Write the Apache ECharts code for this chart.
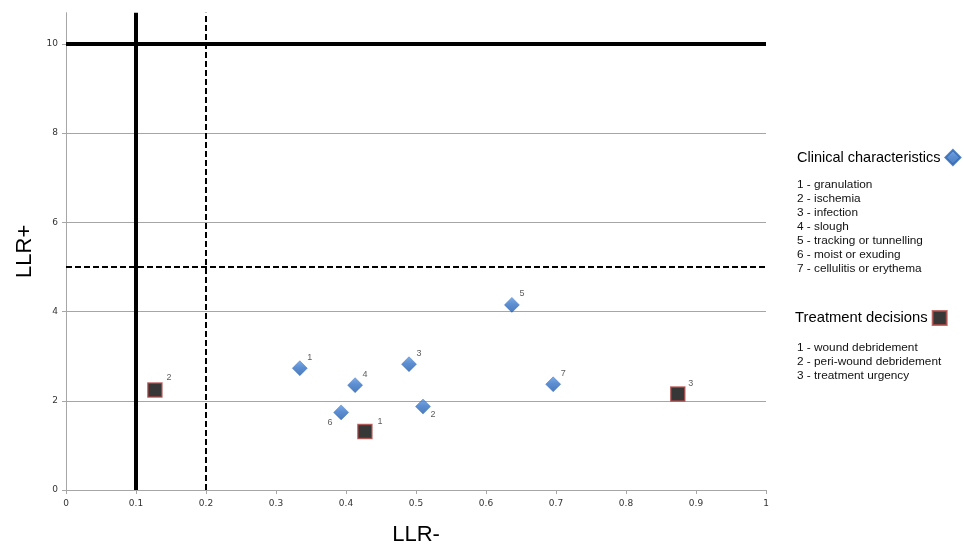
<!DOCTYPE html>
<html><head><meta charset="utf-8">
<script src="https://cdn.jsdelivr.net/npm/echarts@6/dist/echarts.min.js"></script>
<style>html,body{margin:0;padding:0;background:#fff;overflow:hidden}#c{width:964px;height:545px}</style>
</head><body><div id="c"></div>
<script>
// ---- data ----
const clinicalIds = ['1','2','3','4','5','6','7'];
const clinicalLLRneg = [0.334, 0.510, 0.490, 0.413, 0.637, 0.393, 0.696];
const clinicalLLRpos = [2.73, 1.87, 2.82, 2.35, 4.15, 1.74, 2.37];
const clinicalNames = ['1 - granulation','2 - ischemia','3 - infection','4 - slough','5 - tracking or tunnelling','6 - moist or exuding','7 - cellulitis or erythema'];

const treatmentIds = ['1','2','3'];
const treatmentLLRneg = [0.427, 0.127, 0.874];
const treatmentLLRpos = [1.31, 2.24, 2.15];
const treatmentNames = ['1 - wound debridement','2 - peri-wound debridement','3 - treatment urgency'];

const strongLLRneg = 0.1, moderateLLRneg = 0.2;
const strongLLRpos = 10, moderateLLRpos = 5;
const xMin = 0, xMax = 1, xStep = 0.1;
const yMin = 0, yMax = 10.7, yStep = 2;

// ---- presentation ----
const labelOffsets = {
  clinical: {'1':[10,-11],'2':[10,8],'3':[10,-11],'4':[10,-11],'5':[10,-11],'6':[-11,10],'7':[10,-11]},
  treatment: {'1':[15,-10],'2':[14,-13],'3':[13,-11]}
};
function pts(ids, xs, ys, key){
  return ids.map((id,i)=>({
    value:[xs[i], ys[i], id],
    label:{offset: labelOffsets[key][id]}
  }));
}
const lbl = {show:true, position:'inside', formatter:p=>p.value[2], fontSize:9, color:'#333', fontFamily:'Liberation Sans'};
const refLine = (data, w, type)=>({type:'line', data, symbol:'none', silent:true, z:1,
  lineStyle:{color:'#000', width:w, type}, animation:false});

const chart = echarts.init(document.getElementById('c'), null, {renderer:'canvas'});
chart.setOption({
  animation:false,
  grid:{left:66, right:198, top:12.7, bottom:55, containLabel:false, outerBoundsMode:'none'},
  xAxis:{type:'value', min:xMin, max:xMax, interval:xStep,
    name:'LLR-', nameLocation:'middle', nameGap:34,
    nameTextStyle:{fontSize:22, color:'#000', fontFamily:'Liberation Sans'},
    axisLine:{lineStyle:{color:'#a6a6a6'}}, axisTick:{show:true, length:4, lineStyle:{color:'#a6a6a6'}},
    axisLabel:{fontSize:9, color:'#333', fontFamily:'DejaVu Sans', margin:9},
    splitLine:{show:false}},
  yAxis:{type:'value', min:yMin, max:yMax, interval:yStep,
    name:'LLR+', nameLocation:'middle', nameGap:25, nameRotate:90,
    nameTextStyle:{fontSize:22, color:'#000', fontFamily:'Liberation Sans'},
    axisLine:{show:true, lineStyle:{color:'#a6a6a6'}}, axisTick:{show:true, length:4, lineStyle:{color:'#a6a6a6'}},
    axisLabel:{fontSize:9, color:'#333', fontFamily:'DejaVu Sans', margin:8, showMaxLabel:false},
    splitLine:{show:true, showMaxLine:false, lineStyle:{color:'#a6a6a6', width:1}}},
  legend:[
    {data:['Clinical characteristics'], left:797, top:149, padding:0, align:'right', itemWidth:15, itemHeight:15, itemGap:0,
     textStyle:{fontSize:14.5, color:'#000', fontFamily:'Liberation Sans'}},
    {data:['Treatment decisions'], left:795, top:310, padding:0, align:'right', itemWidth:14, itemHeight:14, itemGap:0,
     textStyle:{fontSize:14.8, color:'#000', fontFamily:'Liberation Sans'}}
  ],
  graphic:[
    {type:'text', left:797, top:178, style:{text:clinicalNames.join('\n'), fontSize:11.8, lineHeight:14, fill:'#111', fontFamily:'Liberation Sans'}},
    {type:'text', left:797, top:341, style:{text:treatmentNames.join('\n'), fontSize:11.8, lineHeight:14, fill:'#111', fontFamily:'Liberation Sans'}}
  ],
  series:[
    refLine([[strongLLRneg,yMin],[strongLLRneg,yMax]], 4, 'solid'),
    refLine([[moderateLLRneg,yMin],[moderateLLRneg,yMax]], 2, [6,3]),
    refLine([[xMin,strongLLRpos],[xMax,strongLLRpos]], 4, 'solid'),
    refLine([[xMin,moderateLLRpos],[xMax,moderateLLRpos]], 2, [6,3]),
    {name:'Clinical characteristics', type:'scatter', symbol:'diamond', symbolSize:15, z:5,
     data:pts(clinicalIds, clinicalLLRneg, clinicalLLRpos, 'clinical'),
     itemStyle:{color:new echarts.graphic.LinearGradient(0,0,0,1,[{offset:0,color:'#5d97e2'},{offset:0.45,color:'#3472c6'},{offset:1,color:'#1f5aaa'}]), borderColor:'#2a64b4', borderWidth:0.5},
     label:lbl},
    {name:'Treatment decisions', type:'scatter', symbol:'rect', symbolSize:14, z:5,
     data:pts(treatmentIds, treatmentLLRneg, treatmentLLRpos, 'treatment'),
     itemStyle:{color:'#050505', borderColor:'#b24a48', borderWidth:1.5},
     label:lbl}
  ]
});
</script></body></html>
